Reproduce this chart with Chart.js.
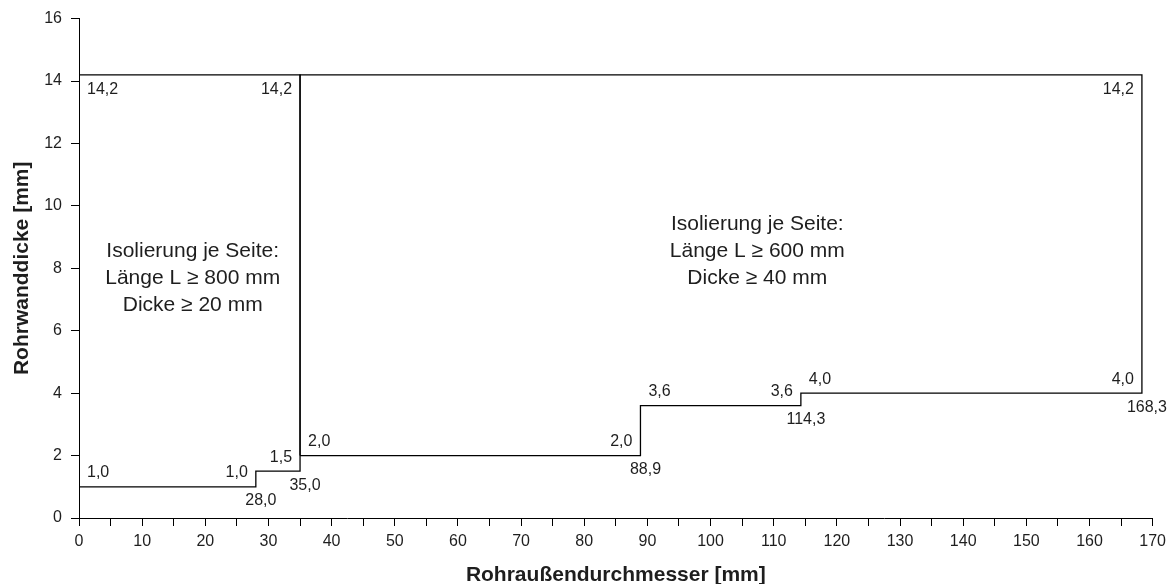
<!DOCTYPE html>
<html lang="de">
<head>
<meta charset="utf-8">
<title>Rohrwanddicke über Rohraußendurchmesser</title>
<script src="https://cdn.jsdelivr.net/npm/chart.js@4/dist/chart.umd.min.js"></script>
<style>
  html, body { margin: 0; padding: 0; background: #ffffff; }
  #wrap { width: 1172px; height: 584px; }
</style>
</head>
<body>
<div id="wrap"><canvas id="chart" width="1172" height="584"></canvas></div>
<script>
// Bereich 1: kleine Rohre (Isolierung ≥ 800 mm lang, ≥ 20 mm dick)
const smallPipeDiameter = [0, 28.0, 28.0, 35.0, 35.0, 0, 0];
const smallPipeWall     = [1.0, 1.0, 1.5, 1.5, 14.2, 14.2, 1.0];

// Bereich 2: größere Rohre (Isolierung ≥ 600 mm lang, ≥ 40 mm dick)
const largePipeDiameter = [35.0, 88.9, 88.9, 114.3, 114.3, 168.3, 168.3, 35.0, 35.0];
const largePipeWall     = [2.0, 2.0, 3.6, 3.6, 4.0, 4.0, 14.2, 14.2, 2.0];

// Beschriftete Wanddicken an den Eckpunkten
const wallLabelDiameter = [0, 28.0, 35.0, 35.0, 88.9, 88.9, 114.3, 114.3, 168.3, 0, 35.0, 168.3];
const wallLabelValue    = [1.0, 1.0, 1.5, 2.0, 2.0, 3.6, 3.6, 4.0, 4.0, 14.2, 14.2, 14.2];

// Beschriftete Außendurchmesser an den Stufen
const diameterLabelValue = [28.0, 35.0, 88.9, 114.3, 168.3];
const diameterLabelWall  = [1.0, 1.5, 2.0, 3.6, 4.0];

// Achsen
const xTickMin = 0, xTickMax = 170, xTickStep = 5;
const yTickMin = 0, yTickMax = 16, yTickStep = 2;

// Hinweistexte
const noteSmall = ['Isolierung je Seite:', 'Länge L ≥ 800 mm', 'Dicke ≥ 20 mm'];
const noteLarge = ['Isolierung je Seite:', 'Länge L ≥ 600 mm', 'Dicke ≥ 40 mm'];
const noteSmallAt = [18.0, 7.67];
const noteLargeAt = [107.4, 8.56];

const xTitle = 'Rohraußendurchmesser [mm]';
const yTitle = 'Rohrwanddicke [mm]';

const FONT = '"Liberation Sans", Arial, Helvetica, sans-serif';
const TEXT = '#1e1e1e';

const toPoints = (xs, ys) => xs.map((x, i) => ({ x: x, y: ys[i] }));
const fmt = v => v.toFixed(1).replace('.', ',');

// Ecke, an der die jeweilige Wanddicke steht (n = oberhalb, s = unterhalb)
const wallLabelCorner = ['ne', 'nw', 'nw', 'ne', 'nw', 'ne', 'nw', 'ne', 'nw', 'se', 'sw', 'sw'];

const labelPlugin = {
  id: 'stepLabels',
  afterDatasetsDraw(chart) {
    const ctx = chart.ctx;
    const xs = chart.scales.x, ys = chart.scales.y;
    ctx.save();
    ctx.fillStyle = TEXT;
    ctx.font = '16px ' + FONT;
    ctx.textBaseline = 'middle';

    wallLabelValue.forEach((v, i) => {
      const px = xs.getPixelForValue(wallLabelDiameter[i]);
      const py = ys.getPixelForValue(v);
      const c = wallLabelCorner[i];
      const dy = c[0] === 'n' ? -14 : 15;
      const east = c[1] === 'e';
      ctx.textAlign = east ? 'left' : 'right';
      ctx.fillText(fmt(v), px + (east ? 8 : -8), py + dy);
    });

    ctx.textAlign = 'center';
    diameterLabelValue.forEach((d, i) => {
      const px = xs.getPixelForValue(d);
      const py = ys.getPixelForValue(diameterLabelWall[i]);
      ctx.fillText(fmt(d), px + 5, py + 14);
    });

    ctx.font = '21px ' + FONT;
    const drawNote = (lines, at) => {
      const cx = xs.getPixelForValue(at[0]);
      const cy = ys.getPixelForValue(at[1]);
      lines.forEach((t, k) => ctx.fillText(t, cx, cy + (k - 1) * 27));
    };
    drawNote(noteSmall, noteSmallAt);
    drawNote(noteLarge, noteLargeAt);

    // Achsentitel
    const area = chart.chartArea;
    ctx.font = 'bold 21px ' + FONT;
    ctx.textBaseline = 'alphabetic';
    ctx.fillText(xTitle, (area.left + area.right) / 2, 581);
    ctx.translate(28, (area.top + area.bottom) / 2);
    ctx.rotate(-Math.PI / 2);
    ctx.fillText(yTitle, 0, 0);
    ctx.restore();
  }
};

const lineStyle = {
  showLine: true,
  pointRadius: 0,
  pointHoverRadius: 0,
  borderColor: '#000000',
  borderWidth: 1.3,
  fill: false,
  tension: 0
};

new Chart(document.getElementById('chart'), {
  type: 'scatter',
  data: {
    datasets: [
      Object.assign({ label: 'Dicke ≥ 20 mm', data: toPoints(smallPipeDiameter, smallPipeWall) }, lineStyle),
      Object.assign({ label: 'Dicke ≥ 40 mm', data: toPoints(largePipeDiameter, largePipeWall) }, lineStyle)
    ]
  },
  options: {
    responsive: false,
    animation: false,
    devicePixelRatio: 1,
    layout: { padding: { top: 15, right: 17, left: 0, bottom: 0 } },
    plugins: {
      legend: { display: false },
      tooltip: { enabled: false },
      title: { display: false }
    },
    scales: {
      x: {
        type: 'linear',
        min: xTickMin,
        max: xTickMax,
        afterFit(scale) { scale.height = 66; },
        border: { display: true, color: '#000000', width: 1 },
        grid: { drawOnChartArea: false, drawTicks: true, tickLength: 8, tickColor: '#000000', tickWidth: 1 },
        ticks: {
          stepSize: xTickStep,
          autoSkip: false,
          maxRotation: 0,
          padding: 6,
          color: TEXT,
          font: { family: FONT, size: 16 },
          callback: v => (v % 10 === 0 ? String(v) : '')
        },
        title: { display: false }
      },
      y: {
        type: 'linear',
        min: yTickMin,
        max: yTickMax,
        afterFit(scale) { scale.width = 79; },
        border: { display: true, color: '#000000', width: 1 },
        grid: { drawOnChartArea: false, drawTicks: true, tickLength: 8, tickColor: '#000000', tickWidth: 1 },
        ticks: {
          stepSize: yTickStep,
          padding: 9,
          color: TEXT,
          font: { family: FONT, size: 16 }
        },
        title: { display: false }
      }
    }
  },
  plugins: [labelPlugin]
});
</script>
</body>
</html>
